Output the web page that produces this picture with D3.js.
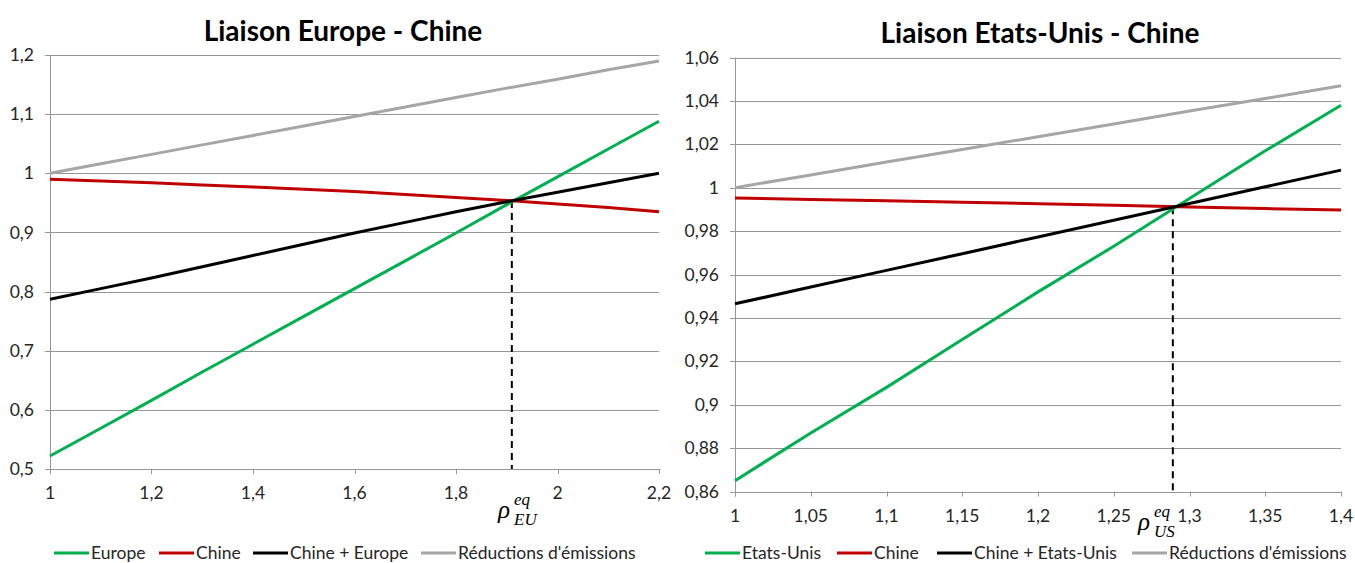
<!DOCTYPE html>
<html><head><meta charset="utf-8">
<script src="https://cdn.jsdelivr.net/npm/d3@7"></script>
<style>body{margin:0;background:#fff}svg{display:block}text{font-family:Lato,"Open Sans",sans-serif}</style>
</head><body><svg id="c" width="1355" height="563"></svg>
<script>
// ---------- DATA ----------
const euX      = [1.0,1.1,1.2,1.3,1.4,1.5,1.6,1.7,1.8,1.9,2.0,2.1,2.2];
const euEurope = [0.522,0.569,0.616,0.664,0.711,0.758,0.805,0.852,0.899,0.947,0.994,1.041,1.088];
const euChine  = [0.990,0.987,0.984,0.980,0.977,0.973,0.969,0.964,0.959,0.954,0.948,0.942,0.935];
const euSum    = [0.787,0.805,0.823,0.842,0.861,0.880,0.899,0.917,0.935,0.952,0.968,0.984,1.000];
const euRed    = [1.000,1.016,1.032,1.048,1.064,1.080,1.096,1.112,1.128,1.144,1.159,1.175,1.190];
const euRho = 1.91, euEqY = 0.953;
const euXTicks = [1,1.2,1.4,1.6,1.8,2,2.2];
const euYTicks = [0.5,0.6,0.7,0.8,0.9,1,1.1,1.2];

const usX      = [1.00,1.05,1.10,1.15,1.20,1.25,1.30,1.35,1.40];
const usUS     = [0.865,0.887,0.908,0.930,0.952,0.973,0.995,1.017,1.038];
const usChine  = [0.9952,0.9946,0.9940,0.9933,0.9926,0.9919,0.9911,0.9904,0.9897];
const usSum    = [0.9465,0.9542,0.9619,0.9696,0.9773,0.9850,0.9927,1.0004,1.0081];
const usRed    = [1.000,1.0059,1.0118,1.0176,1.0235,1.0294,1.0353,1.0411,1.047];
const usRho = 1.289, usEqY = 0.991;
const usXTicks = [1,1.05,1.1,1.15,1.2,1.25,1.3,1.35,1.4];
const usYTicks = [0.86,0.88,0.9,0.92,0.94,0.96,0.98,1,1.02,1.04,1.06];

const titles = ["Liaison Europe - Chine","Liaison Etats-Unis - Chine"];
const euNames = ["Europe","Chine","Chine + Europe","Réductions d'émissions"];
const usNames = ["Etats-Unis","Chine","Chine + Etats-Unis","Réductions d'émissions"];
const colors = ["#00B050","#C00000","#000000","#A6A6A6"];

// ---------- DRAW ----------
const svg = d3.select("#c");
const fmt = v => String(+v.toFixed(4)).replace(".", ",");

const panels = [
  {title:titles[0], x:euX, series:[euEurope,euChine,euSum,euRed], names:euNames,
   xd:[1,2.2], yd:[0.5,1.2], xr:[50,659], yr:[469,55], xt:euXTicks, yt:euYTicks,
   rho:euRho, eqY:euEqY, sub:"EU", tx:343, ty:41, xly:493,
   legX:[54,159,253,421], rhoPos:[498,518]},
  {title:titles[1], x:usX, series:[usUS,usChine,usSum,usRed], names:usNames,
   xd:[1,1.4], yd:[0.86,1.06], xr:[735,1341], yr:[491.5,57.5], xt:usXTicks, yt:usYTicks,
   rho:usRho, eqY:usEqY, sub:"US", tx:1040, ty:43, xly:516,
   legX:[705,837,937,1132], rhoPos:[1138,530]}
];

panels.forEach(p => {
  const g = svg.append("g");
  const x = d3.scaleLinear().domain(p.xd).range(p.xr);
  const y = d3.scaleLinear().domain(p.yd).range(p.yr);

  // gridlines
  g.append("g").selectAll("line").data(p.yt).join("line")
    .attr("x1", p.xr[0]-5).attr("x2", p.xr[1])
    .attr("y1", d => Math.round(y(d))+0.5).attr("y2", d => Math.round(y(d))+0.5)
    .attr("stroke", "#969696").attr("stroke-width", 1);
  // y axis line
  g.append("line").attr("x1", p.xr[0]+0.5).attr("x2", p.xr[0]+0.5)
    .attr("y1", p.yr[1]).attr("y2", p.yr[0]+5).attr("stroke", "#969696");
  // x ticks
  g.append("g").selectAll("line").data(p.xt).join("line")
    .attr("x1", d => Math.round(x(d))+0.5).attr("x2", d => Math.round(x(d))+0.5)
    .attr("y1", p.yr[0]).attr("y2", p.yr[0]+5).attr("stroke", "#969696");
  // y labels
  g.append("g").selectAll("text").data(p.yt).join("text")
    .attr("x", p.xr[0]-16).attr("y", d => y(d)).attr("dy", "0.35em")
    .attr("text-anchor", "end").attr("font-size", 17.5).attr("fill", "#262626")
    .text(fmt);
  // x labels
  g.append("g").selectAll("text").data(p.xt).join("text")
    .attr("x", d => x(d)).attr("y", p.xly).attr("dy", "0.35em")
    .attr("text-anchor", "middle").attr("font-size", 17.5).attr("fill", "#262626")
    .text(fmt);
  // title
  g.append("text").attr("x", p.tx).attr("y", p.ty).attr("text-anchor", "middle")
    .attr("font-size", 28).attr("font-weight", "bold").attr("fill", "#000").text(p.title);

  // dashed line
  g.append("line").attr("x1", x(p.rho)).attr("x2", x(p.rho))
    .attr("y1", y(p.eqY)).attr("y2", p.yr[0])
    .attr("stroke", "#000").attr("stroke-width", 2).attr("stroke-dasharray", "7,5");

  // series
  const line = d3.line().x((d,i) => x(p.x[i])).y(d => y(d));
  p.series.forEach((s,k) => {
    g.append("path").datum(s).attr("d", line).attr("fill", "none")
      .attr("stroke", colors[k]).attr("stroke-width", 3);
  });

  // rho label
  const [rx, ry] = p.rhoPos;
  const rf = "'Liberation Serif','DejaVu Serif',serif";
  g.append("text").attr("x", rx).attr("y", ry).attr("font-size", 25).attr("font-style","italic")
    .style("font-family", rf).text("ρ");
  g.append("text").attr("x", rx+16).attr("y", ry-13).attr("font-size", 17).attr("font-style","italic")
    .style("font-family", rf).text("eq");
  g.append("text").attr("x", rx+16).attr("y", ry+7).attr("font-size", 17).attr("font-style","italic")
    .style("font-family", rf).text(p.sub);

  // legend
  const ly = 553;
  p.names.forEach((n,k) => {
    const lx = p.legX[k];
    g.append("line").attr("x1", lx).attr("x2", lx+35).attr("y1", ly).attr("y2", ly)
      .attr("stroke", colors[k]).attr("stroke-width", 3);
    g.append("text").attr("x", lx+37).attr("y", ly).attr("dy", "0.35em")
      .attr("font-size", 17.5).attr("fill", "#262626").text(n);
  });
});
</script></body></html>
